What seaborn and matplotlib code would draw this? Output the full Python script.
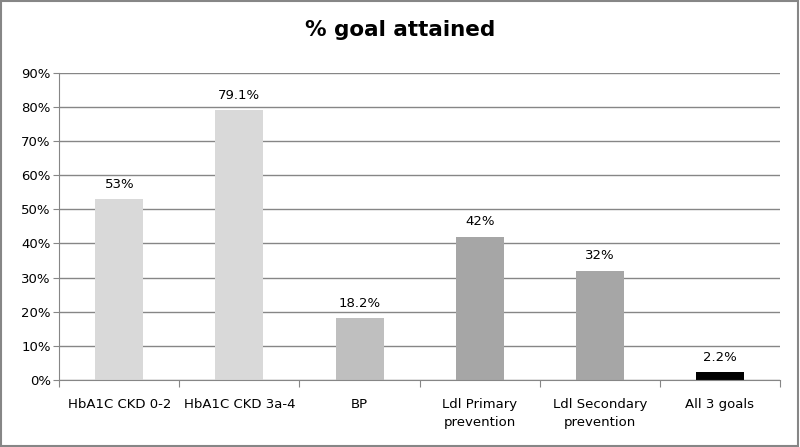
import numpy as np
import pandas as pd
import matplotlib
matplotlib.use('Agg')
import matplotlib.pyplot as plt
import seaborn as sns

# Datos del gráfico
categorias = ['HbA1C CKD 0-2', 'HbA1C CKD 3a-4', 'BP',
              'Ldl Primary\nprevention', 'Ldl Secondary\nprevention', 'All 3 goals']
valores = [53.0, 79.1, 18.2, 42.0, 32.0, 2.2]
etiquetas = ['53%', '79.1%', '18.2%', '42%', '32%', '2.2%']
colores = ['#d9d9d9', '#d9d9d9', '#bfbfbf', '#a6a6a6', '#a6a6a6', '#000000']

df = pd.DataFrame({'cat': categorias, 'val': valores})

sns.set_style('white')
plt.rcParams['font.family'] = ['DejaVu Sans']
plt.rcParams['text.color'] = 'black'
plt.rcParams['xtick.color'] = 'black'
plt.rcParams['ytick.color'] = 'black'

fig = plt.figure(figsize=(8, 4.47), dpi=100)
ax = fig.add_axes([0.074, 0.15, 0.901, 0.687])

sns.barplot(data=df, x='cat', y='val', hue='cat', palette=colores,
            width=0.4, legend=False, ax=ax, saturation=1, linewidth=0)

# Etiquetas de valor
for p, txt in zip(ax.patches, etiquetas):
    ax.annotate(txt, (p.get_x() + p.get_width() / 2, p.get_height()),
                ha='center', va='bottom', xytext=(0, 6),
                textcoords='offset points', fontsize=9.5, color='black')

ax.set_ylim(0, 90)
ax.set_xlim(-0.5, 5.5)
ax.set_yticks(np.arange(0, 91, 10))
ax.set_yticklabels([f'{v}%' for v in range(0, 91, 10)], fontsize=9.5)
ax.yaxis.grid(True, color='#868686', linewidth=1)
ax.set_axisbelow(True)

# Marcas del eje X entre categorías
ax.set_xticks(np.arange(-0.5, 6, 1))
ax.set_xticklabels([])
ax.set_xticks(np.arange(6), minor=True)
ax.set_xticklabels(categorias, minor=True, fontsize=9.5, linespacing=1.45)
ax.tick_params(axis='x', which='major', length=5, color='#868686', direction='out', bottom=True)
ax.tick_params(axis='x', which='minor', length=0, pad=13)
ax.tick_params(axis='y', length=4, color='#868686', left=True, pad=2)

for lado in ['top', 'right']:
    ax.spines[lado].set_visible(False)
for lado in ['left', 'bottom']:
    ax.spines[lado].set_color('#868686')
ax.set_xlabel('')
ax.set_ylabel('')

fig.suptitle('% goal attained', fontsize=15.5, fontweight='bold', y=0.955, color='black')

# Borde de la figura
fig.patches.append(plt.Rectangle((0.001, 0.002), 0.997, 0.995, transform=fig.transFigure,
                                 fill=False, edgecolor='#868686', linewidth=1.5))

fig.savefig('out.png', dpi=100)
